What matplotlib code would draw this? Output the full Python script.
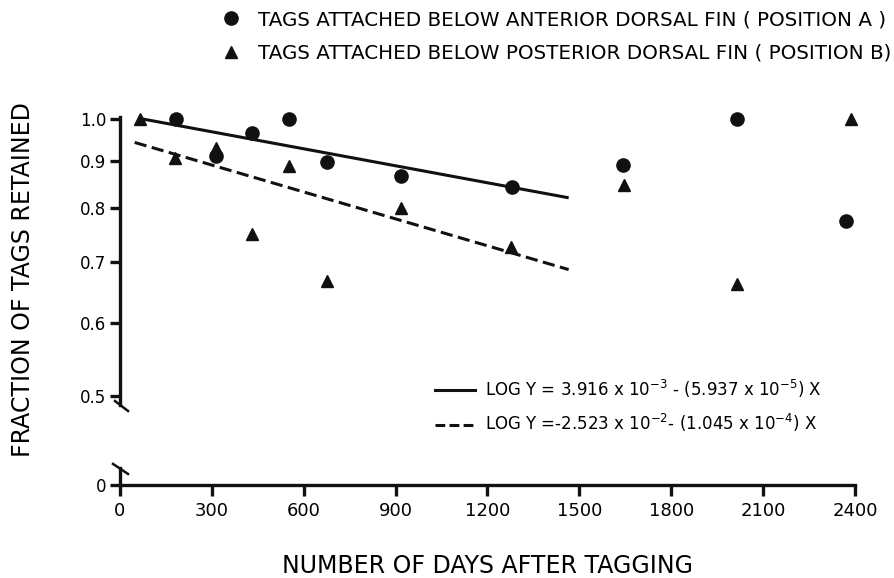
import matplotlib
matplotlib.use("Agg")
import matplotlib.pyplot as plt
from matplotlib.lines import Line2D
from matplotlib.ticker import NullLocator, FixedLocator, FixedFormatter

# ---- data ----
days_a = [184, 312, 432, 552, 676, 918, 1279, 1644, 2015, 2372]
frac_a = [1.0, 0.912, 0.966, 1.0, 0.897, 0.868, 0.843, 0.892, 1.0, 0.774]

days_b = [64, 181, 312, 430, 553, 675, 918, 1277, 1646, 2016, 2386]
frac_b = [1.0, 0.907, 0.931, 0.749, 0.889, 0.666, 0.80, 0.726, 0.848, 0.661, 1.0]

fit_a_days = [74, 1465]
fit_a_frac = [1.0, 0.821]
fit_b_days = [48, 1465]
fit_b_frac = [0.943, 0.686]

x_ticks = [0, 300, 600, 900, 1200, 1500, 1800, 2100, 2400]
y_ticks = [0.5, 0.6, 0.7, 0.8, 0.9, 1.0]
y_ticklabels = ["0.5", "0.6", "0.7", "0.8", "0.9", "1.0"]

label_a = "TAGS ATTACHED BELOW ANTERIOR DORSAL FIN ( POSITION A )"
label_b = "TAGS ATTACHED BELOW POSTERIOR DORSAL FIN ( POSITION B)"
eq_a = r"LOG Y = 3.916 x 10$^{-3}$ - (5.937 x 10$^{-5}$) X"
eq_b = r"LOG Y =-2.523 x 10$^{-2}$- (1.045 x 10$^{-4}$) X"
xlabel = "NUMBER OF DAYS AFTER TAGGING"
ylabel = "FRACTION OF TAGS RETAINED"

plt.rcParams['font.family'] = ['DejaVu Sans']
plt.rcParams['mathtext.fontset'] = 'dejavusans'

W, H = 895, 578
fig = plt.figure(figsize=(W / 100, H / 100), dpi=100)

x0, x1 = 120, 855
ax = fig.add_axes([x0 / W, (H - 405) / H, (x1 - x0) / W, 288 / H])
ax2 = fig.add_axes([x0 / W, (H - 485) / H, (x1 - x0) / W, 17 / H])

lw = 2.4
black = "#111111"

# upper (log) panel
ax.set_yscale("log")
ax.set_xlim(0, 2400)
ax.set_ylim(0.4888, 1.005)
ax.plot(days_a, frac_a, "o", color=black, ms=9.5, clip_on=False, zorder=3)
ax.plot(days_b, frac_b, "^", color=black, ms=8.5, clip_on=False, zorder=3)
ax.plot(fit_a_days, fit_a_frac, "-", color=black, lw=2.2, solid_capstyle="butt")
ax.plot(fit_b_days, fit_b_frac, "--", color=black, lw=2.2, dashes=(4.0, 1.8))

for s in ["top", "right", "bottom"]:
    ax.spines[s].set_visible(False)
ax.spines["left"].set_linewidth(lw)
ax.spines["left"].set_color(black)
ax.set_xticks([])
ax.yaxis.set_major_locator(FixedLocator(y_ticks))
ax.yaxis.set_major_formatter(FixedFormatter(y_ticklabels))
ax.yaxis.set_minor_locator(NullLocator())
ax.tick_params(axis="y", direction="out", length=7, width=lw, labelsize=12, pad=3, color=black)

# break mark (upper)
ax.plot([-0.0068, 0.0109], [0.0139, -0.0208], transform=ax.transAxes,
        color=black, lw=1.8, clip_on=False)

# equation legend
handles_eq = [Line2D([], [], color=black, lw=2.2),
              Line2D([], [], color=black, lw=2.2, ls="--", dashes=(3.2, 1.4))]
fig.legend(handles_eq, [eq_a, eq_b], loc="center left",
           bbox_to_anchor=(435 / W, 1 - 406 / H), frameon=False, fontsize=12,
           handlelength=2.4, handletextpad=0.6, labelspacing=0.75,
           borderaxespad=0, borderpad=0)

# lower (zero) panel
ax2.set_xlim(0, 2400)
ax2.set_ylim(0, 1)
for s in ["top", "right"]:
    ax2.spines[s].set_visible(False)
for s in ["left", "bottom"]:
    ax2.spines[s].set_linewidth(lw)
    ax2.spines[s].set_color(black)
ax2.set_xticks(x_ticks)
ax2.set_xticklabels([str(t) for t in x_ticks])
ax2.set_yticks([0])
ax2.set_yticklabels(["0"])
ax2.tick_params(axis="x", direction="out", length=8, width=lw, labelsize=13, pad=4, color=black)
ax2.tick_params(axis="y", direction="out", length=7, width=lw, labelsize=12, pad=3, color=black)
# break mark (lower)
ax2.plot([-0.0095, 0.0109], [1.24, 0.65], transform=ax2.transAxes,
         color=black, lw=1.8, clip_on=False)

fig.text(487.5 / W, 1 - 566 / H, xlabel, fontsize=17, ha="center", va="center")
fig.text(23 / W, 1 - 280 / H, ylabel, rotation=90, fontsize=17, ha="center", va="center")

# top legend
h_a = Line2D([], [], ls="", marker="o", color=black, ms=9.5)
h_b = Line2D([], [], ls="", marker="^", color=black, ms=8.5)
fig.legend([h_a, h_b], [label_a, label_b], loc="center left",
           bbox_to_anchor=(221 / W, 1 - 36.5 / H), frameon=False, fontsize=14.3,
           handlelength=1.0, handletextpad=0.85, labelspacing=0.75,
           borderaxespad=0, borderpad=0)

fig.savefig("out.png", dpi=100)
